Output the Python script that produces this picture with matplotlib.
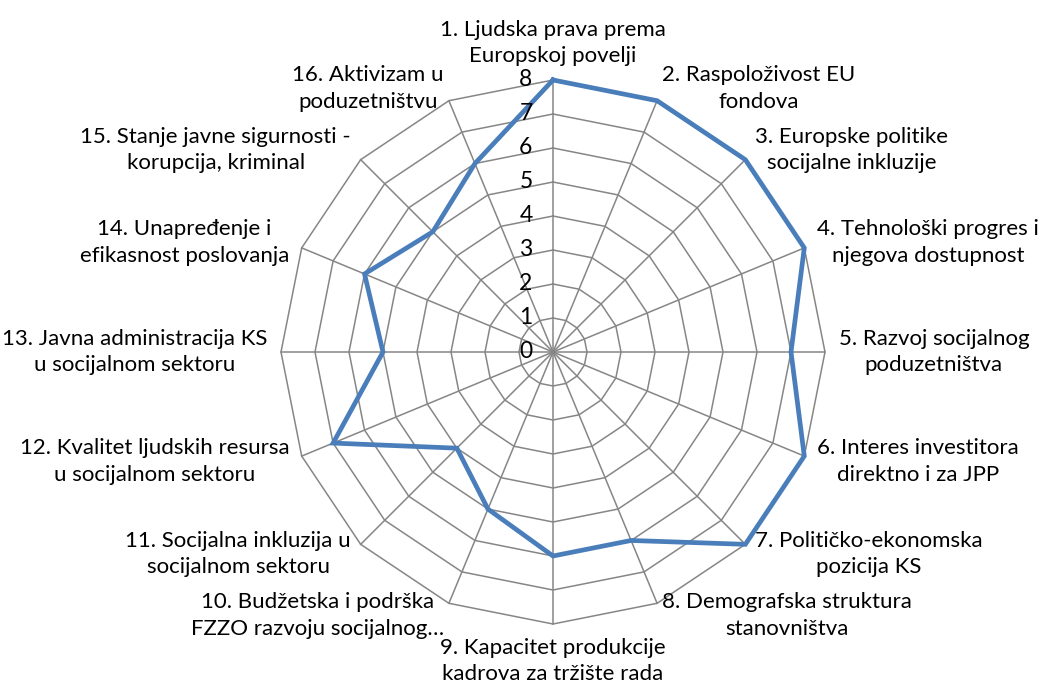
import numpy as np
import matplotlib
matplotlib.use("Agg")
import matplotlib.pyplot as plt

plt.rcParams['font.family'] = ['Lato', 'DejaVu Sans']

# Categories and scores
categories = [
    "1. Ljudska prava prema\nEuropskoj povelji",
    "2. Raspoloživost EU\nfondova",
    "3. Europske politike\nsocijalne inkluzije",
    "4. Tehnološki progres i\nnjegova dostupnost",
    "5. Razvoj socijalnog\npoduzetništva",
    "6. Interes investitora\ndirektno i za JPP",
    "7. Političko-ekonomska\npozicija KS",
    "8. Demografska struktura\nstanovništva",
    "9. Kapacitet produkcije\nkadrova za tržište rada",
    "10. Budžetska i podrška\nFZZO razvoju socijalnog…",
    "11. Socijalna inkluzija u\nsocijalnom sektoru",
    "12. Kvalitet ljudskih resursa\nu socijalnom sektoru",
    "13. Javna administracija KS\nu socijalnom sektoru",
    "14. Unapređenje i\nefikasnost poslovanja",
    "15. Stanje javne sigurnosti -\nkorupcija, kriminal",
    "16. Aktivizam u\npoduzetništvu",
]
values = [8, 8, 8, 8, 7, 8, 8, 6, 6, 5, 4, 7, 5, 6, 5, 6]
ticks = [0, 1, 2, 3, 4, 5, 6, 7, 8]

grid_color = '#868686'
line_color = '#4A7EBB'
r_max = 8
label_r = 8.4

n = len(categories)
theta = np.arange(n) * 2 * np.pi / n  # clockwise from top

def xy(r, t):
    return r * np.sin(t), r * np.cos(t)

W, H = 1042, 692
px = 34.0  # pixels per unit
cx, cy = 553, 352

fig = plt.figure(figsize=(W / 100, H / 100), dpi=100)
ax = fig.add_axes([0, 0, 1, 1])
ax.set_xlim(-cx / px, (W - cx) / px)
ax.set_ylim(-(H - cy) / px, cy / px)
ax.axis('off')

# polygon grid rings
tt = np.append(theta, theta[0])
for r in ticks[1:]:
    gx, gy = xy(r, tt)
    ax.plot(gx, gy, color=grid_color, lw=1.1, zorder=1)
# spokes
for t in theta:
    sx, sy = xy(np.array([0, r_max]), t)
    ax.plot(sx, sy, color=grid_color, lw=1.1, zorder=1)

# data series
vals = np.append(values, values[0])
dx, dy = xy(vals, tt)
ax.plot(dx, dy, color=line_color, lw=3.4, solid_joinstyle='miter', zorder=3)

# radial tick labels
for r in ticks:
    ax.text(-0.6, r, str(r), ha='right', va='center', fontsize=16.5, color='black', zorder=4)

# category labels
for lab, t in zip(categories, theta):
    lx, ly = xy(label_r, t)
    s = np.sin(t)
    c = np.cos(t)
    if abs(s) < 0.1:
        ha = 'center'
        va = 'bottom' if c > 0 else 'top'
    else:
        ha = 'left' if s > 0 else 'right'
        va = 'center'
    ax.text(lx, ly, lab, ha=ha, va=va, multialignment='center', fontsize=16,
            color='black', linespacing=1.42, zorder=4)

fig.savefig('out.png', dpi=100)
